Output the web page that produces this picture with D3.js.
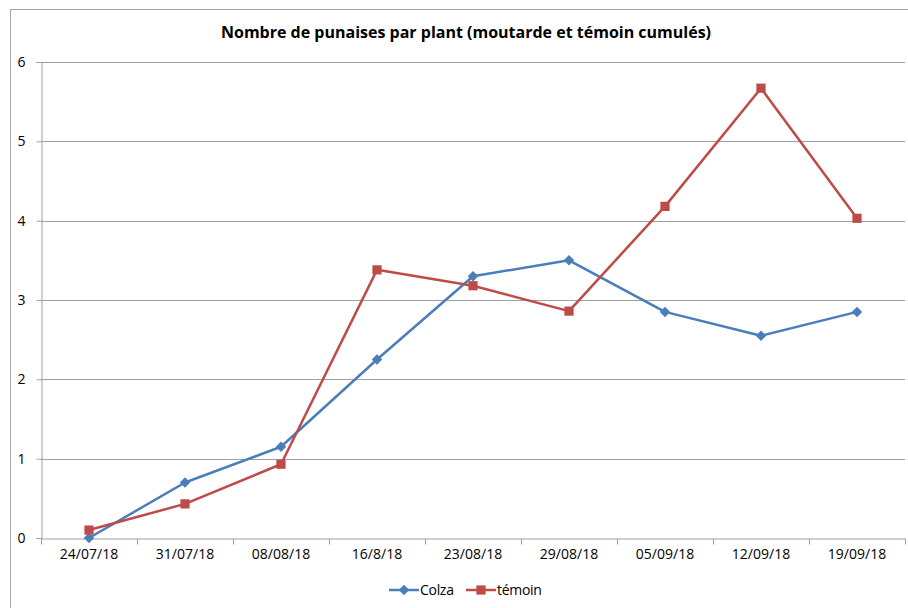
<!DOCTYPE html>
<html>
<head>
<meta charset="utf-8">
<script src="https://cdn.jsdelivr.net/npm/d3@7"></script>
<style>
  body { margin: 0; background: #fff; }
  svg { font-family: "Open Sans", "Noto Sans", sans-serif; }
</style>
</head>
<body>
<svg width="908" height="608"></svg>
<script>
var dates = ["24/07/18", "31/07/18", "08/08/18", "16/8/18", "23/08/18",
             "29/08/18", "05/09/18", "12/09/18", "19/09/18"];
var colza = [0, 0.7, 1.15, 2.25, 3.3, 3.5, 2.85, 2.55, 2.85];
var temoin = [0.1, 0.43, 0.93, 3.38, 3.18, 2.86, 4.18, 5.67, 4.03];
var yTicks = [0, 1, 2, 3, 4, 5, 6];

var svg = d3.select("svg");

// chart frame
svg.append("rect").attr("x", 10.5).attr("y", 9.5)
  .attr("width", 920).attr("height", 620)
  .attr("fill", "none").attr("stroke", "#a6a6a6");

svg.append("text").attr("x", 466).attr("y", 38)
  .attr("text-anchor", "middle").attr("font-size", 16).attr("font-weight", "bold")
  .text("Nombre de punaises par plant (moutarde et témoin cumulés)");

var scX = d3.scaleBand().domain(dates).range([41, 905]);
var scY = d3.scaleLinear().domain([0, 6]).range([538, 62]);

// grid lines
svg.append("g").selectAll("line")
  .data(yTicks.slice(1)).enter().append("line")
  .attr("x1", 41).attr("x2", 905)
  .attr("y1", d => Math.round(scY(d)) + 0.5).attr("y2", d => Math.round(scY(d)) + 0.5)
  .attr("stroke", "#a0a0a0");

var axY = svg.append("g").attr("transform", "translate(41.5,0)")
  .call(d3.axisLeft(scY).tickValues(yTicks).tickSize(5).tickFormat(d3.format("d")));
axY.select(".domain").attr("stroke", "#a0a0a0");
axY.selectAll(".tick line").attr("stroke", "#a0a0a0");
axY.selectAll(".tick text").attr("font-size", 14).attr("fill", "#000")
  .attr("font-family", "Open Sans, sans-serif").attr("text-anchor", "middle").attr("x", -20);

var axX = svg.append("g").attr("transform", "translate(0,538.5)")
  .call(d3.axisBottom(scX).tickSize(0).tickPadding(11));
axX.select(".domain").attr("stroke", "#a0a0a0");
axX.selectAll(".tick text").attr("font-size", 14).attr("fill", "#000")
  .attr("font-family", "Open Sans, sans-serif");
axX.selectAll("line.sep").data(dates.concat(["end"])).enter().append("line")
  .attr("class", "sep")
  .attr("x1", (d, i) => Math.round(41 + i * scX.bandwidth()) + 0.5)
  .attr("x2", (d, i) => Math.round(41 + i * scX.bandwidth()) + 0.5)
  .attr("y1", 0).attr("y2", 6).attr("stroke", "#a0a0a0");

var cx = d => scX(d) + scX.bandwidth() / 2;
var line = d3.line().x((d, i) => cx(dates[i])).y(d => scY(d));

var series = [
  { name: "Colza", values: colza, color: "#4a7ebb", shape: d3.symbolSquare, size: 55, rot: 45 },
  { name: "témoin", values: temoin, color: "#be4b48", shape: d3.symbolSquare, size: 85, rot: 0 }
];

series.forEach(function (s) {
  var g = svg.append("g");
  g.append("path").attr("d", line(s.values))
    .attr("fill", "none").attr("stroke", s.color).attr("stroke-width", 2.5)
    .attr("stroke-linejoin", "round");
  g.selectAll("path.m").data(s.values).enter().append("path")
    .attr("class", "m")
    .attr("d", d3.symbol().type(s.shape).size(s.size))
    .attr("transform", (d, i) => "translate(" + cx(dates[i]) + "," + scY(d) + ") rotate(" + s.rot + ")")
    .attr("fill", s.color);
});

// legend
var leg = svg.append("g").attr("transform", "translate(389,590)");
var legX = [0, 77];
series.forEach(function (s, i) {
  var lg = leg.append("g").attr("transform", "translate(" + legX[i] + ",0)");
  lg.append("line").attr("x1", 0).attr("x2", 30).attr("stroke", s.color).attr("stroke-width", 2.5);
  lg.append("path").attr("d", d3.symbol().type(s.shape).size(s.size))
    .attr("transform", "translate(15,0) rotate(" + s.rot + ")")
    .attr("fill", s.color);
  lg.append("text").attr("x", 31).attr("y", 5).attr("font-size", 14)
    .attr("letter-spacing", -0.3).text(s.name);
});
</script>
</body>
</html>
